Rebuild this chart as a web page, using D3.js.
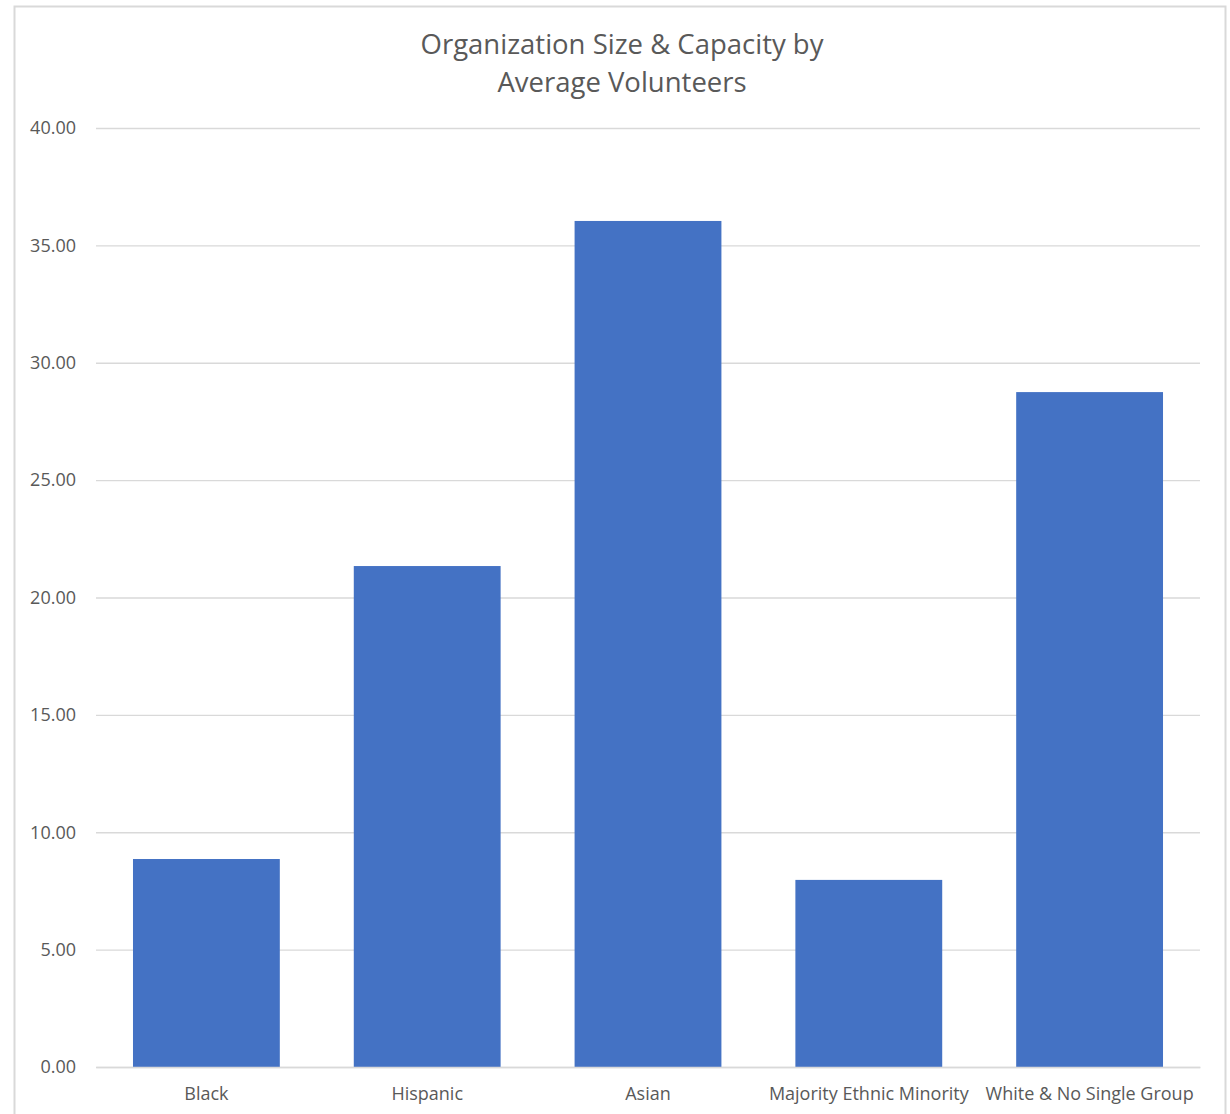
<!DOCTYPE html>
<html>
<head>
<meta charset="utf-8">
<script src="https://cdn.jsdelivr.net/npm/d3@7"></script>
<style>
  body { margin: 0; background: #fff; }
  svg text { font-family: "Open Sans", "Noto Sans", sans-serif; fill: #595959; }
</style>
</head>
<body>
<svg id="chart" width="1230" height="1114"></svg>
<script>
const categories = ["Black", "Hispanic", "Asian", "Majority Ethnic Minority", "White & No Single Group"]
const values = [8.86, 21.34, 36.04, 7.97, 28.75]
const yTicks = [0, 5, 10, 15, 20, 25, 30, 35, 40]
const titleLines = ["Organization Size & Capacity by", "Average Volunteers"]

const plotLeft = 96,
    plotRight = 1200,
    plotTop = 128,
    plotBottom = 1067

const svg = d3.select("#chart")

// outer frame of the chart area
svg.append("rect")
    .attr("x", 14.5)
    .attr("y", 6.5)
    .attr("width", 1211)
    .attr("height", 1130)
    .attr("fill", "none")
    .attr("stroke", "#d9d9d9")
    .attr("stroke-width", 2)

const x = d3.scaleBand()
    .domain(categories)
    .range([plotLeft, plotRight])
    .paddingInner(0.335)
    .paddingOuter(0.1675)

const y = d3.scaleLinear()
    .domain([0, 40])
    .range([plotBottom, plotTop])

// gridlines + labels
const yAxis = d3.axisLeft(y)
    .tickValues(yTicks)
    .tickSize(-(plotRight - plotLeft))
    .tickPadding(20)
    .tickFormat(d3.format(".2f"))

const gy = svg.append("g")
    .attr("transform", `translate(${plotLeft},0)`)
    .call(yAxis)
gy.select(".domain").remove()
gy.selectAll(".tick line").attr("stroke", "#d9d9d9").attr("stroke-width", 1.3)
gy.selectAll(".tick text").style("font-size", "18px").attr("dy", "0.32em")

svg.append("g")
    .selectAll("rect")
    .data(values)
    .enter()
    .append("rect")
    .attr("x", (d, i) => x(categories[i]))
    .attr("y", d => y(d))
    .attr("width", x.bandwidth())
    .attr("height", d => y(0) - y(d))
    .attr("fill", "#4472c4")

const xAxis = d3.axisBottom(x).tickSize(0).tickPadding(20)
const gx = svg.append("g")
    .attr("transform", `translate(0,${plotBottom})`)
    .call(xAxis)
gx.select(".domain").attr("stroke", "#d9d9d9").attr("stroke-width", 1.3)
gx.selectAll(".tick text").style("font-size", "18px")

svg.append("g")
    .selectAll("text")
    .data(titleLines)
    .enter()
    .append("text")
    .attr("x", 622)
    .attr("y", (d, i) => 54 + i * 38)
    .attr("text-anchor", "middle")
    .style("font-size", "27.5px")
    .text(d => d)
</script>
</body>
</html>
